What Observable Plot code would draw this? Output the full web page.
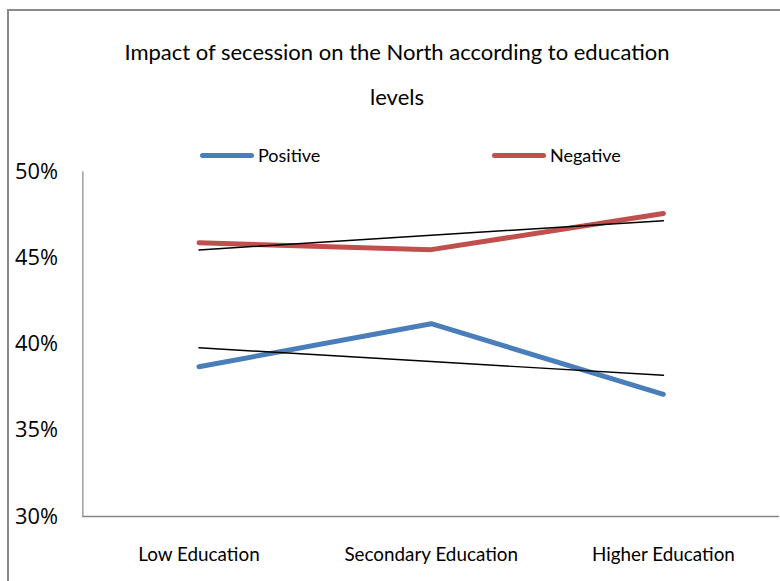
<!DOCTYPE html>
<html>
<head>
<meta charset="utf-8">
<script src="https://cdn.jsdelivr.net/npm/d3@7"></script>
<script src="https://cdn.jsdelivr.net/npm/@observablehq/plot@0.6"></script>
<style>
  html, body { margin: 0; padding: 0; background: #fff; overflow: hidden; }
  #chart { position: relative; width: 780px; height: 581px; overflow: hidden; }
  #border { position: absolute; left: 7px; top: 9px; width: 800px; height: 600px;
            border-left: 2px solid #8a8a8a; border-top: 2px solid #8a8a8a; }
  #title { position: absolute; left: 0; width: 794px; top: 29px; text-align: center;
           font-family: Lato, sans-serif; font-size: 22px; line-height: 45px; color: #000; }
  .legend { position: absolute; top: 144px; font-family: Lato, sans-serif;
            font-size: 18px; color: #000; display: flex; align-items: center; }
  .legend .sw { display: inline-block; width: 54px; height: 5px; border-radius: 3px; margin-right: 4px; }
  #plot { position: absolute; left: 0; top: 0; }
</style>
</head>
<body>
<div id="chart">
  <div id="border"></div>
  <div id="title"></div>
  <div id="legend"></div>
  <div id="plot"></div>
</div>
<script>
// Survey shares (percent) by education level
const categories = ["Low Education", "Secondary Education", "Higher Education"];
const positive = [38.7, 41.2, 37.1];
const negative = [45.9, 45.5, 47.6];
const yTicks = [30, 35, 40, 45, 50];
const seriesNames = ["Positive", "Negative"];
const seriesColors = ["#4a7ebb", "#c0504d"];
const titleLines = ["Impact of secession on the North according to education", "levels"];

document.getElementById("title").innerHTML = titleLines.join("<br>");

// Legend swatches
const legendLeft = [200, 492];
const legend = document.getElementById("legend");
seriesNames.forEach((name, i) => {
  const item = document.createElement("div");
  item.className = "legend";
  item.style.left = legendLeft[i] + "px";
  item.innerHTML = `<span class="sw" style="background:${seriesColors[i]}"></span>${name}`;
  legend.appendChild(item);
});

// Long-format table
const rows = [];
categories.forEach((c, i) => {
  rows.push({category: c, series: "Positive", value: positive[i], idx: i});
  rows.push({category: c, series: "Negative", value: negative[i], idx: i});
});

// Least-squares linear trend for each series
function trend(values) {
  const xs = values.map((_, i) => i);
  const mx = d3.mean(xs), my = d3.mean(values);
  const slope = d3.sum(xs, (x, i) => (x - mx) * (values[i] - my)) / d3.sum(xs, x => (x - mx) ** 2);
  return values.map((_, i) => ({category: categories[i], value: my + slope * (i - mx)}));
}
const trends = [trend(positive), trend(negative)];

const plot = Plot.plot({
  width: 786,
  height: 581,
  marginTop: 173,
  marginBottom: 61,
  marginLeft: 83,
  marginRight: 1,
  style: {background: "transparent", overflow: "visible"},
  x: {type: "point", domain: categories, padding: 0.5, label: null},
  y: {domain: [30, 50], label: null},
  color: {domain: seriesNames, range: seriesColors},
  marks: [
    Plot.frame({anchor: "left", stroke: "#868686", strokeWidth: 1.2, strokeOpacity: 1}),
    Plot.ruleY([30], {stroke: "#868686", strokeWidth: 1.5}),
    Plot.axisY({
      ticks: yTicks, tickSize: 0, tickPadding: 25,
      tickFormat: d => d + "%",
      fontSize: 22, fontFamily: "'Open Sans', sans-serif", fill: "#000"
    }),
    Plot.axisX({
      tickSize: 0, tickPadding: 31,
      fontSize: 19, fontFamily: "Lato, sans-serif", fill: "#000"
    }),
    Plot.line(rows, {
      x: "category", y: "value", z: "series", stroke: "series",
      strokeWidth: 5, strokeLinecap: "round", strokeLinejoin: "round"
    }),
    ...trends.map(t => Plot.line(t, {x: "category", y: "value", stroke: "#000", strokeWidth: 1.5}))
  ]
});
document.getElementById("plot").appendChild(plot);
</script>
</body>
</html>
